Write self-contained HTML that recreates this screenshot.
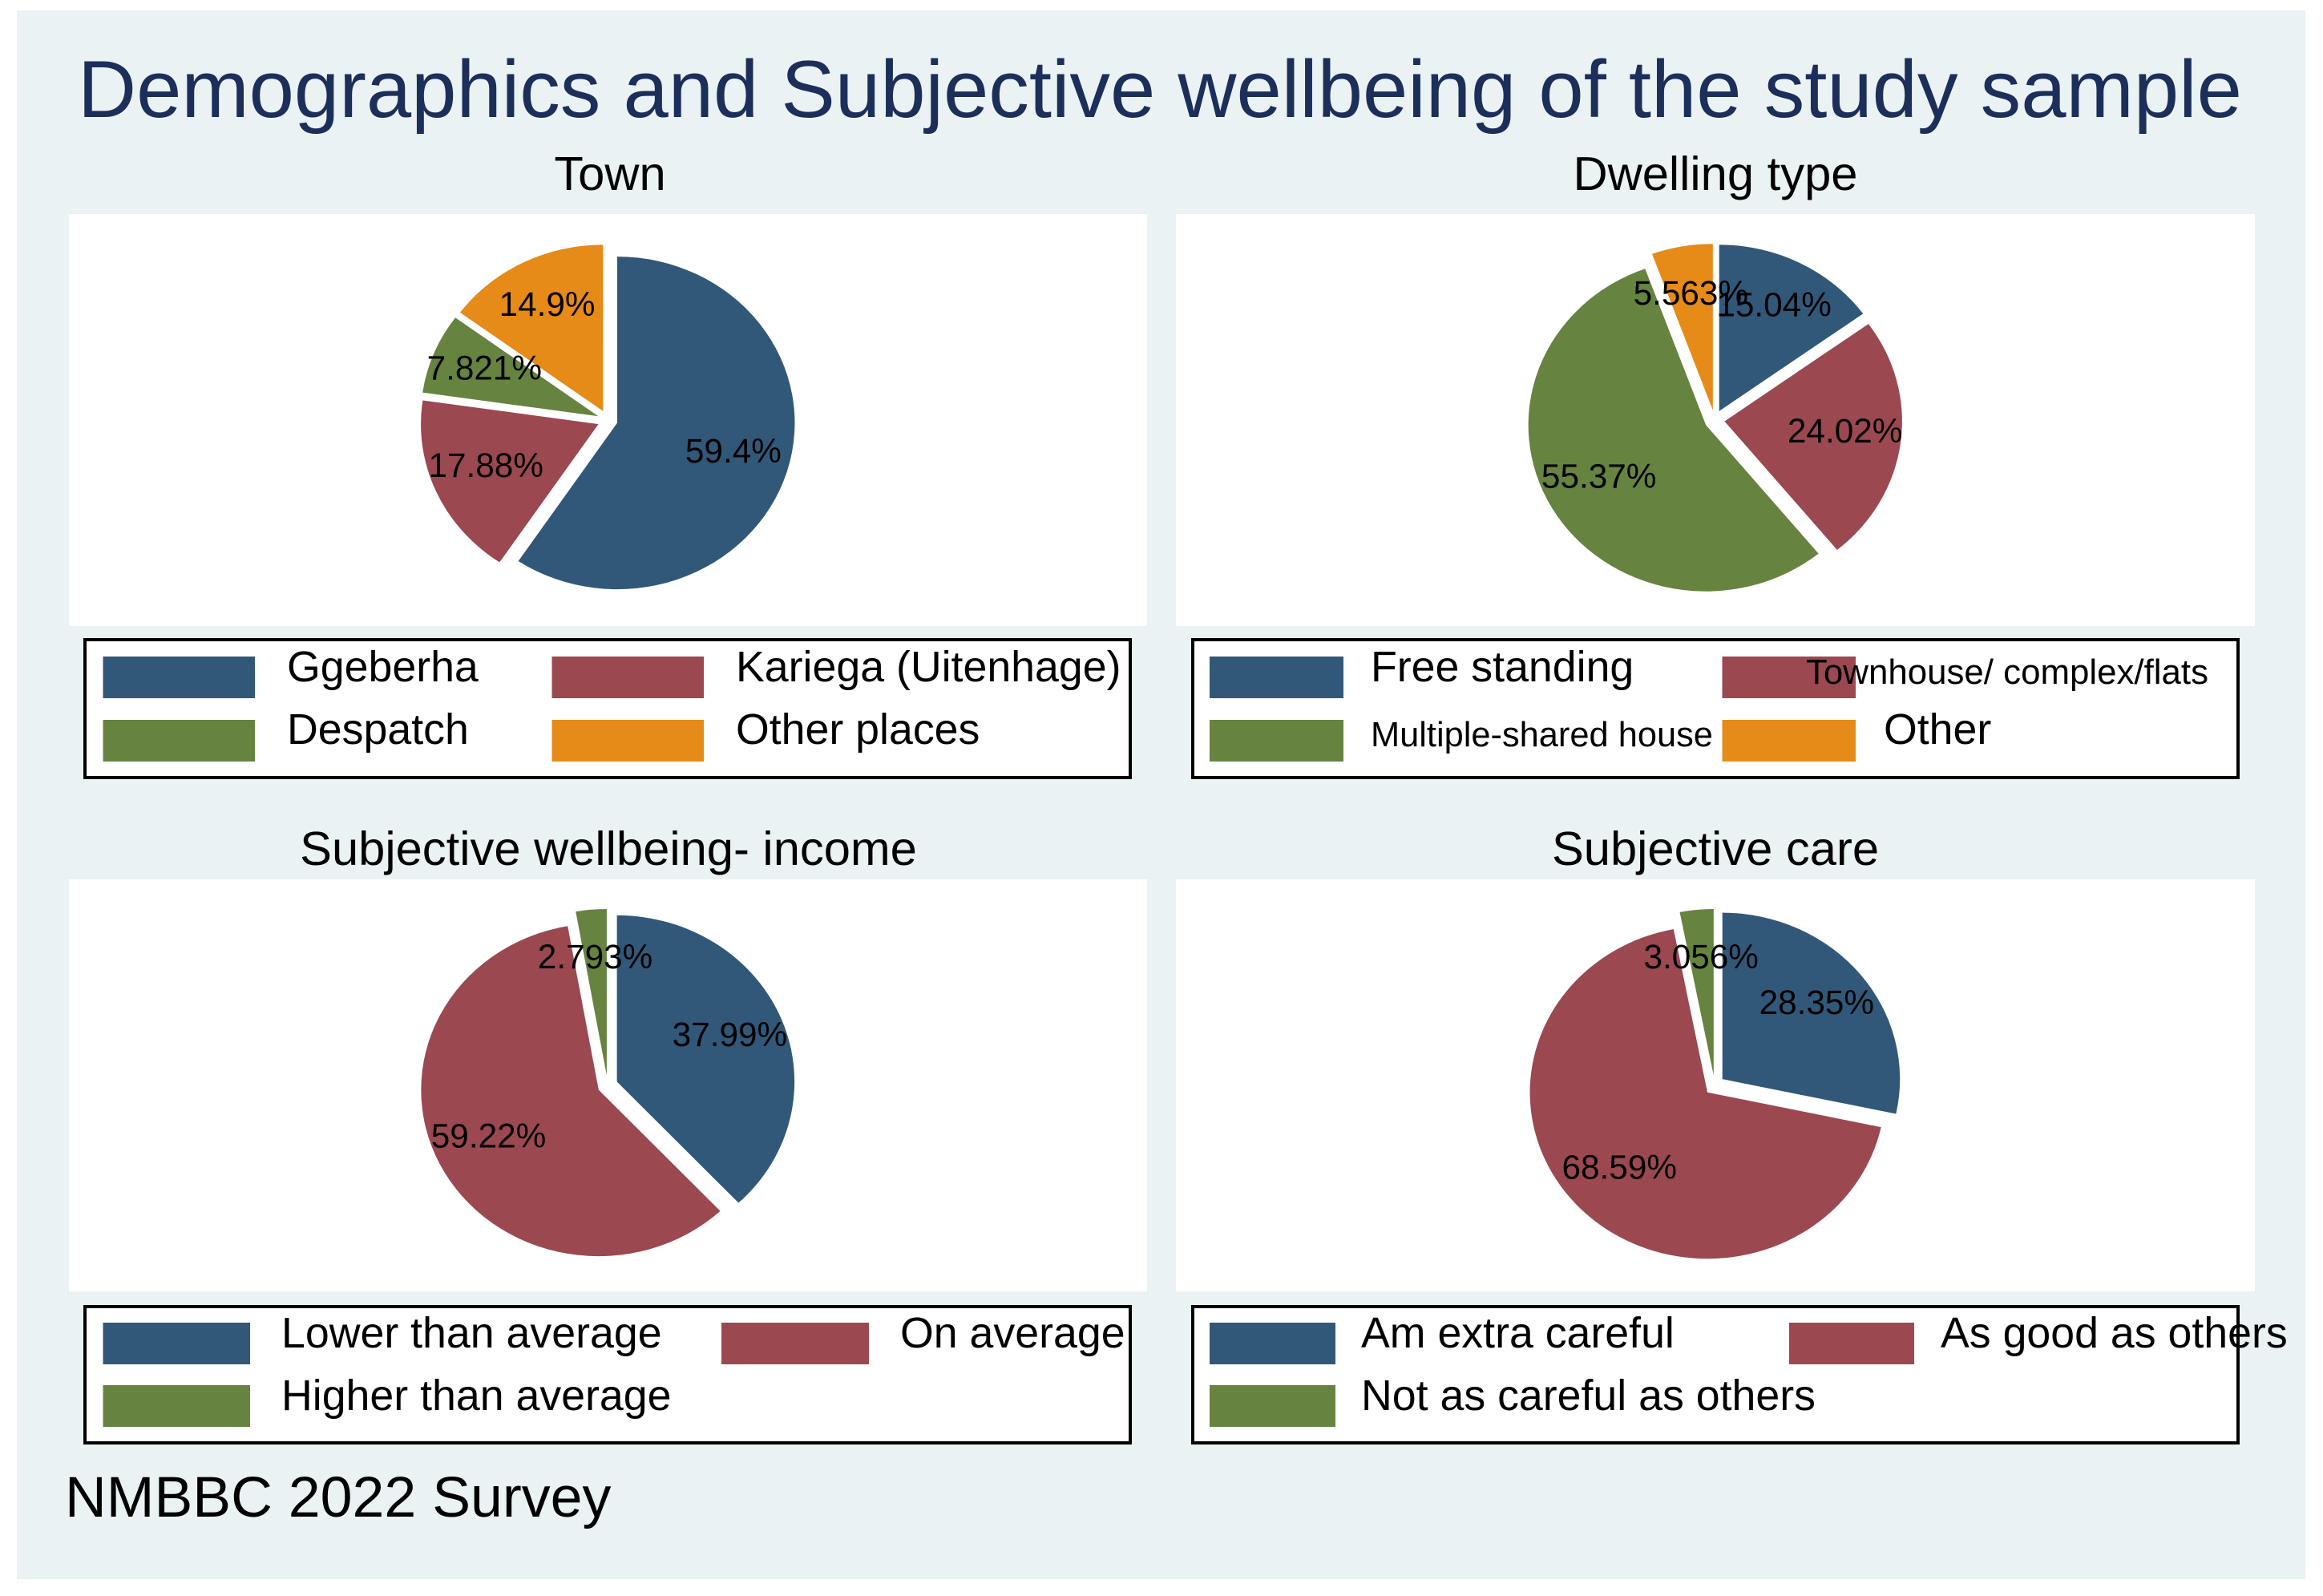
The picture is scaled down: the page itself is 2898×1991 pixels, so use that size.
<!DOCTYPE html>
<html lang="en">
<head>
<meta charset="utf-8">
<title>Demographics and Subjective wellbeing of the study sample</title>
<style>
  html, body { margin: 0; padding: 0; background: #ffffff; }
  svg { display: block; }
  text { font-family: "Liberation Sans", Arial, sans-serif; fill: #000000; }
  .sub { font-size: 59.7px; text-anchor: middle; }
  .leg { font-size: 53.7px; }
  .leg-small { font-size: 43.4px; }
  .box { fill: #ffffff; stroke: #000000; stroke-width: 4; }
  .navy { fill: #315879; }
  .maroon { fill: #9b4851; }
  .forest { fill: #66833f; }
  .orange { fill: #e68b18; }
</style>
</head>
<body>
<svg id="figure" xmlns="http://www.w3.org/2000/svg" width="2898" height="1991" viewBox="0 0 2898 1991">
  <rect x="0" y="0" width="2898" height="1991" fill="#ffffff"/>
  <rect x="21" y="13" width="2855" height="1957" fill="#eaf2f3"/>

  <text x="97" y="146" font-size="101.2" style="fill:#1c2e5a">Demographics and Subjective wellbeing of the study sample</text>

  <text class="sub" x="761" y="237">Town</text>
  <text class="sub" x="2140" y="237">Dwelling type</text>
  <text class="sub" x="759" y="1079">Subjective wellbeing- income</text>
  <text class="sub" x="2140" y="1079">Subjective care</text>

  <rect x="86" y="267" width="1345" height="514" fill="#ffffff"/>
  <rect x="1467" y="267" width="1346" height="514" fill="#ffffff"/>
  <rect x="86" y="1097" width="1345" height="514" fill="#ffffff"/>
  <rect x="1467" y="1097" width="1346" height="514" fill="#ffffff"/>

  <g id="pies"></g>

  <!-- Town legend -->
  <g>
    <rect class="box" x="106" y="798" width="1304" height="172"/>
    <rect class="navy" x="128.5" y="819" width="189.5" height="52"/>
    <text class="leg" x="358" y="850">Ggeberha</text>
    <rect class="maroon" x="688.5" y="819" width="189.5" height="52"/>
    <text class="leg" x="918" y="850">Kariega (Uitenhage)</text>
    <rect class="forest" x="128.5" y="898" width="189.5" height="52"/>
    <text class="leg" x="358" y="928">Despatch</text>
    <rect class="orange" x="688.5" y="898" width="189.5" height="52"/>
    <text class="leg" x="918" y="928">Other places</text>
  </g>

  <!-- Dwelling legend -->
  <g>
    <rect class="box" x="1488" y="798" width="1304" height="172"/>
    <rect class="navy" x="1509" y="819" width="167" height="52"/>
    <text class="leg" x="1710" y="850">Free standing</text>
    <rect class="maroon" x="2148.5" y="819" width="166.5" height="52"/>
    <text class="leg-small" x="2253" y="853" textLength="502" lengthAdjust="spacingAndGlyphs">Townhouse/ complex/flats</text>
    <rect class="forest" x="1509" y="898" width="167" height="52"/>
    <text class="leg-small" x="1710" y="931">Multiple-shared house</text>
    <rect class="orange" x="2148.5" y="898" width="166.5" height="52"/>
    <text class="leg" x="2350" y="928">Other</text>
  </g>

  <!-- Income legend -->
  <g>
    <rect class="box" x="106" y="1630" width="1304" height="170"/>
    <rect class="navy" x="128.5" y="1650" width="183.5" height="52"/>
    <text class="leg" x="351" y="1681">Lower than average</text>
    <rect class="maroon" x="900" y="1650" width="184" height="52"/>
    <text class="leg" x="1123" y="1681">On average</text>
    <rect class="forest" x="128.5" y="1728" width="183.5" height="52"/>
    <text class="leg" x="351" y="1759">Higher than average</text>
  </g>

  <!-- Care legend -->
  <g>
    <rect class="box" x="1488" y="1630" width="1304" height="170"/>
    <rect class="navy" x="1509" y="1650" width="157" height="52"/>
    <text class="leg" x="1698" y="1681">Am extra careful</text>
    <rect class="maroon" x="2232" y="1650" width="156" height="52"/>
    <text class="leg" x="2421" y="1681">As good as others</text>
    <rect class="forest" x="1509" y="1728" width="157" height="52"/>
    <text class="leg" x="1698" y="1759">Not as careful as others</text>
  </g>

  <text x="81" y="1892" font-size="71.7">NMBBC 2022 Survey</text>
</svg>

<script>
// Chart data: each pie's categories and percentage values
const townCategories = ['gqeberha', 'kariega', 'despatch', 'other-places'];
const townValues = [59.4, 17.88, 7.821, 14.9];

const dwellingCategories = ['free-standing', 'townhouse', 'multiple-shared', 'other'];
const dwellingValues = [15.04, 24.02, 55.37, 5.563];

const incomeCategories = ['lower-than-average', 'on-average', 'higher-than-average'];
const incomeValues = [37.99, 59.22, 2.793];

const careCategories = ['extra-careful', 'as-good-as-others', 'not-as-careful'];
const careValues = [28.35, 68.59, 3.056];

const sliceColors = ['#315879', '#9b4851', '#66833f', '#e68b18'];

const SVG_NS = 'http://www.w3.org/2000/svg';
const RX = 221.5, RY = 207.5, EXPLODE = 12.5, LABEL_R = 0.745;

// Axis function: fraction of the pie -> clockwise angle from 12 o'clock
function angleOf(fraction) { return fraction * 2 * Math.PI; }

function formatPct(v) { return String(parseFloat(v.toPrecision(4))) + '%'; }

function drawPie(name, categories, values, cx, cy) {
  const layer = document.getElementById('pies');
  const total = values.reduce(function (a, b) { return a + b; }, 0);
  let cumulative = 0;
  const labels = [];
  values.forEach(function (v, i) {
    const a0 = angleOf(cumulative / total);
    const a1 = angleOf((cumulative + v) / total);
    const mid = (a0 + a1) / 2;
    cumulative += v;
    const ax = cx + EXPLODE * Math.sin(mid);
    const ay = cy - EXPLODE * Math.cos(mid);
    const x0 = ax + RX * Math.sin(a0), y0 = ay - RY * Math.cos(a0);
    const x1 = ax + RX * Math.sin(a1), y1 = ay - RY * Math.cos(a1);
    const large = (a1 - a0) > Math.PI ? 1 : 0;
    const path = document.createElementNS(SVG_NS, 'path');
    path.setAttribute('d', 'M' + ax + ' ' + ay + ' L' + x0 + ' ' + y0 +
      ' A' + RX + ' ' + RY + ' 0 ' + large + ' 1 ' + x1 + ' ' + y1 + ' Z');
    path.setAttribute('fill', sliceColors[i]);
    
    
    layer.appendChild(path);
    labels.push({
      x: cx - 1 + LABEL_R * RX * Math.sin(mid),
      y: cy + 8 - LABEL_R * RY * Math.cos(mid),
      text: formatPct(v),
      cat: categories[i]
    });
  });
  labels.forEach(function (l) {
    const t = document.createElementNS(SVG_NS, 'text');
    t.setAttribute('x', l.x);
    t.setAttribute('y', l.y);
    t.setAttribute('text-anchor', 'middle');
    t.setAttribute('font-size', '42.3');
    
    
    t.textContent = l.text;
    layer.appendChild(t);
  });
}

drawPie('town', townCategories, townValues, 758, 524);
drawPie('dwelling', dwellingCategories, dwellingValues, 2139, 524);
drawPie('income', incomeCategories, incomeValues, 758, 1354);
drawPie('care', careCategories, careValues, 2139, 1354);
</script>
</body>
</html>
